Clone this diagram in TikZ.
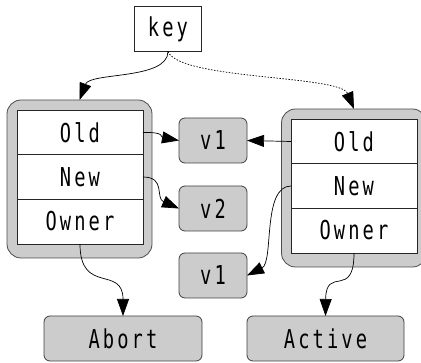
\documentclass[tikz,border=0pt]{standalone}
\usepackage{fontspec}
\newfontfamily\diafont[FakeStretch=0.72,LetterSpace=12]{DejaVu Sans Mono}
\usetikzlibrary{arrows.meta}
\begin{document}
\begin{tikzpicture}[x=1pt,y=-1pt,
  every node/.style={font=\diafont\fontsize{26}{30}\selectfont, inner sep=0pt, outer sep=0pt},
  rowbox/.style={draw=black!85, line width=0.8pt, fill=white, minimum width=126pt, minimum height=45pt},
  contbox/.style={draw=black!70, line width=0.8pt, fill=gray!40, rounded corners=14pt, minimum width=145pt, minimum height=158pt},
  valbox/.style={draw=black!75, line width=0.8pt, fill=gray!40, rounded corners=6pt, minimum width=68pt, minimum height=45pt},
  statebox/.style={draw=black!75, line width=0.8pt, fill=gray!40, rounded corners=6pt, minimum width=158pt, minimum height=45pt},
  keybox/.style={draw=black!85, line width=0.8pt, fill=white, minimum width=67pt, minimum height=45pt},
  arr/.style={draw=black, line width=0.7pt, -{Triangle[length=17pt,width=12pt]}},
  dotarr/.style={arr, dash pattern=on 1.5pt off 1.5pt}
]
\useasboundingbox (0,0) rectangle (421,363);
\clip (0,0) rectangle (421,363);

\node[keybox] (key) at (168,29) {key};

\node[contbox] (lc) at (79.5,179) {};
\node[rowbox] (lold) at (80,132.5) {Old};
\node[rowbox] (lnew) at (80,177) {New};
\node[rowbox] (lown) at (80,221.5) {Owner};

\node[contbox] (rc) at (354,188) {};
\node[rowbox] (rold) at (354,141.5) {Old};
\node[rowbox] (rnew) at (354,186) {New};
\node[rowbox] (rown) at (354,230.5) {Owner};

\node[valbox] (va) at (213,140.5) {v1};
\node[valbox] (vb) at (213,208.5) {v2};
\node[valbox] (vc) at (213,275.5) {v1};

\node[statebox] (abort) at (123,338.5) {Abort};
\node[statebox, minimum width=157pt] (active) at (325.5,338.5) {Active};

\draw[arr] (key.south) .. controls (168,80) and (90,72) .. (lc.north);
\draw[dotarr] (key.south) .. controls (180,80) and (340,75) .. (rc.north);

\draw[arr] (lold.east) .. controls (166,132) and (160,137) .. (va.west);
\draw[arr] (lnew.east) .. controls (166,177) and (155,198) .. (vb.west);

\draw[arr] (rold.west) -- (va.east);
\draw[arr] (rnew.west) .. controls (262,186) and (274,262) .. (vc.east);

\draw[arr] (lown.south) .. controls (80,295) and (123,265) .. (abort.north);
\draw[arr] (rown.south) .. controls (354,300) and (326,265) .. (active.north);
\end{tikzpicture}
\end{document}
